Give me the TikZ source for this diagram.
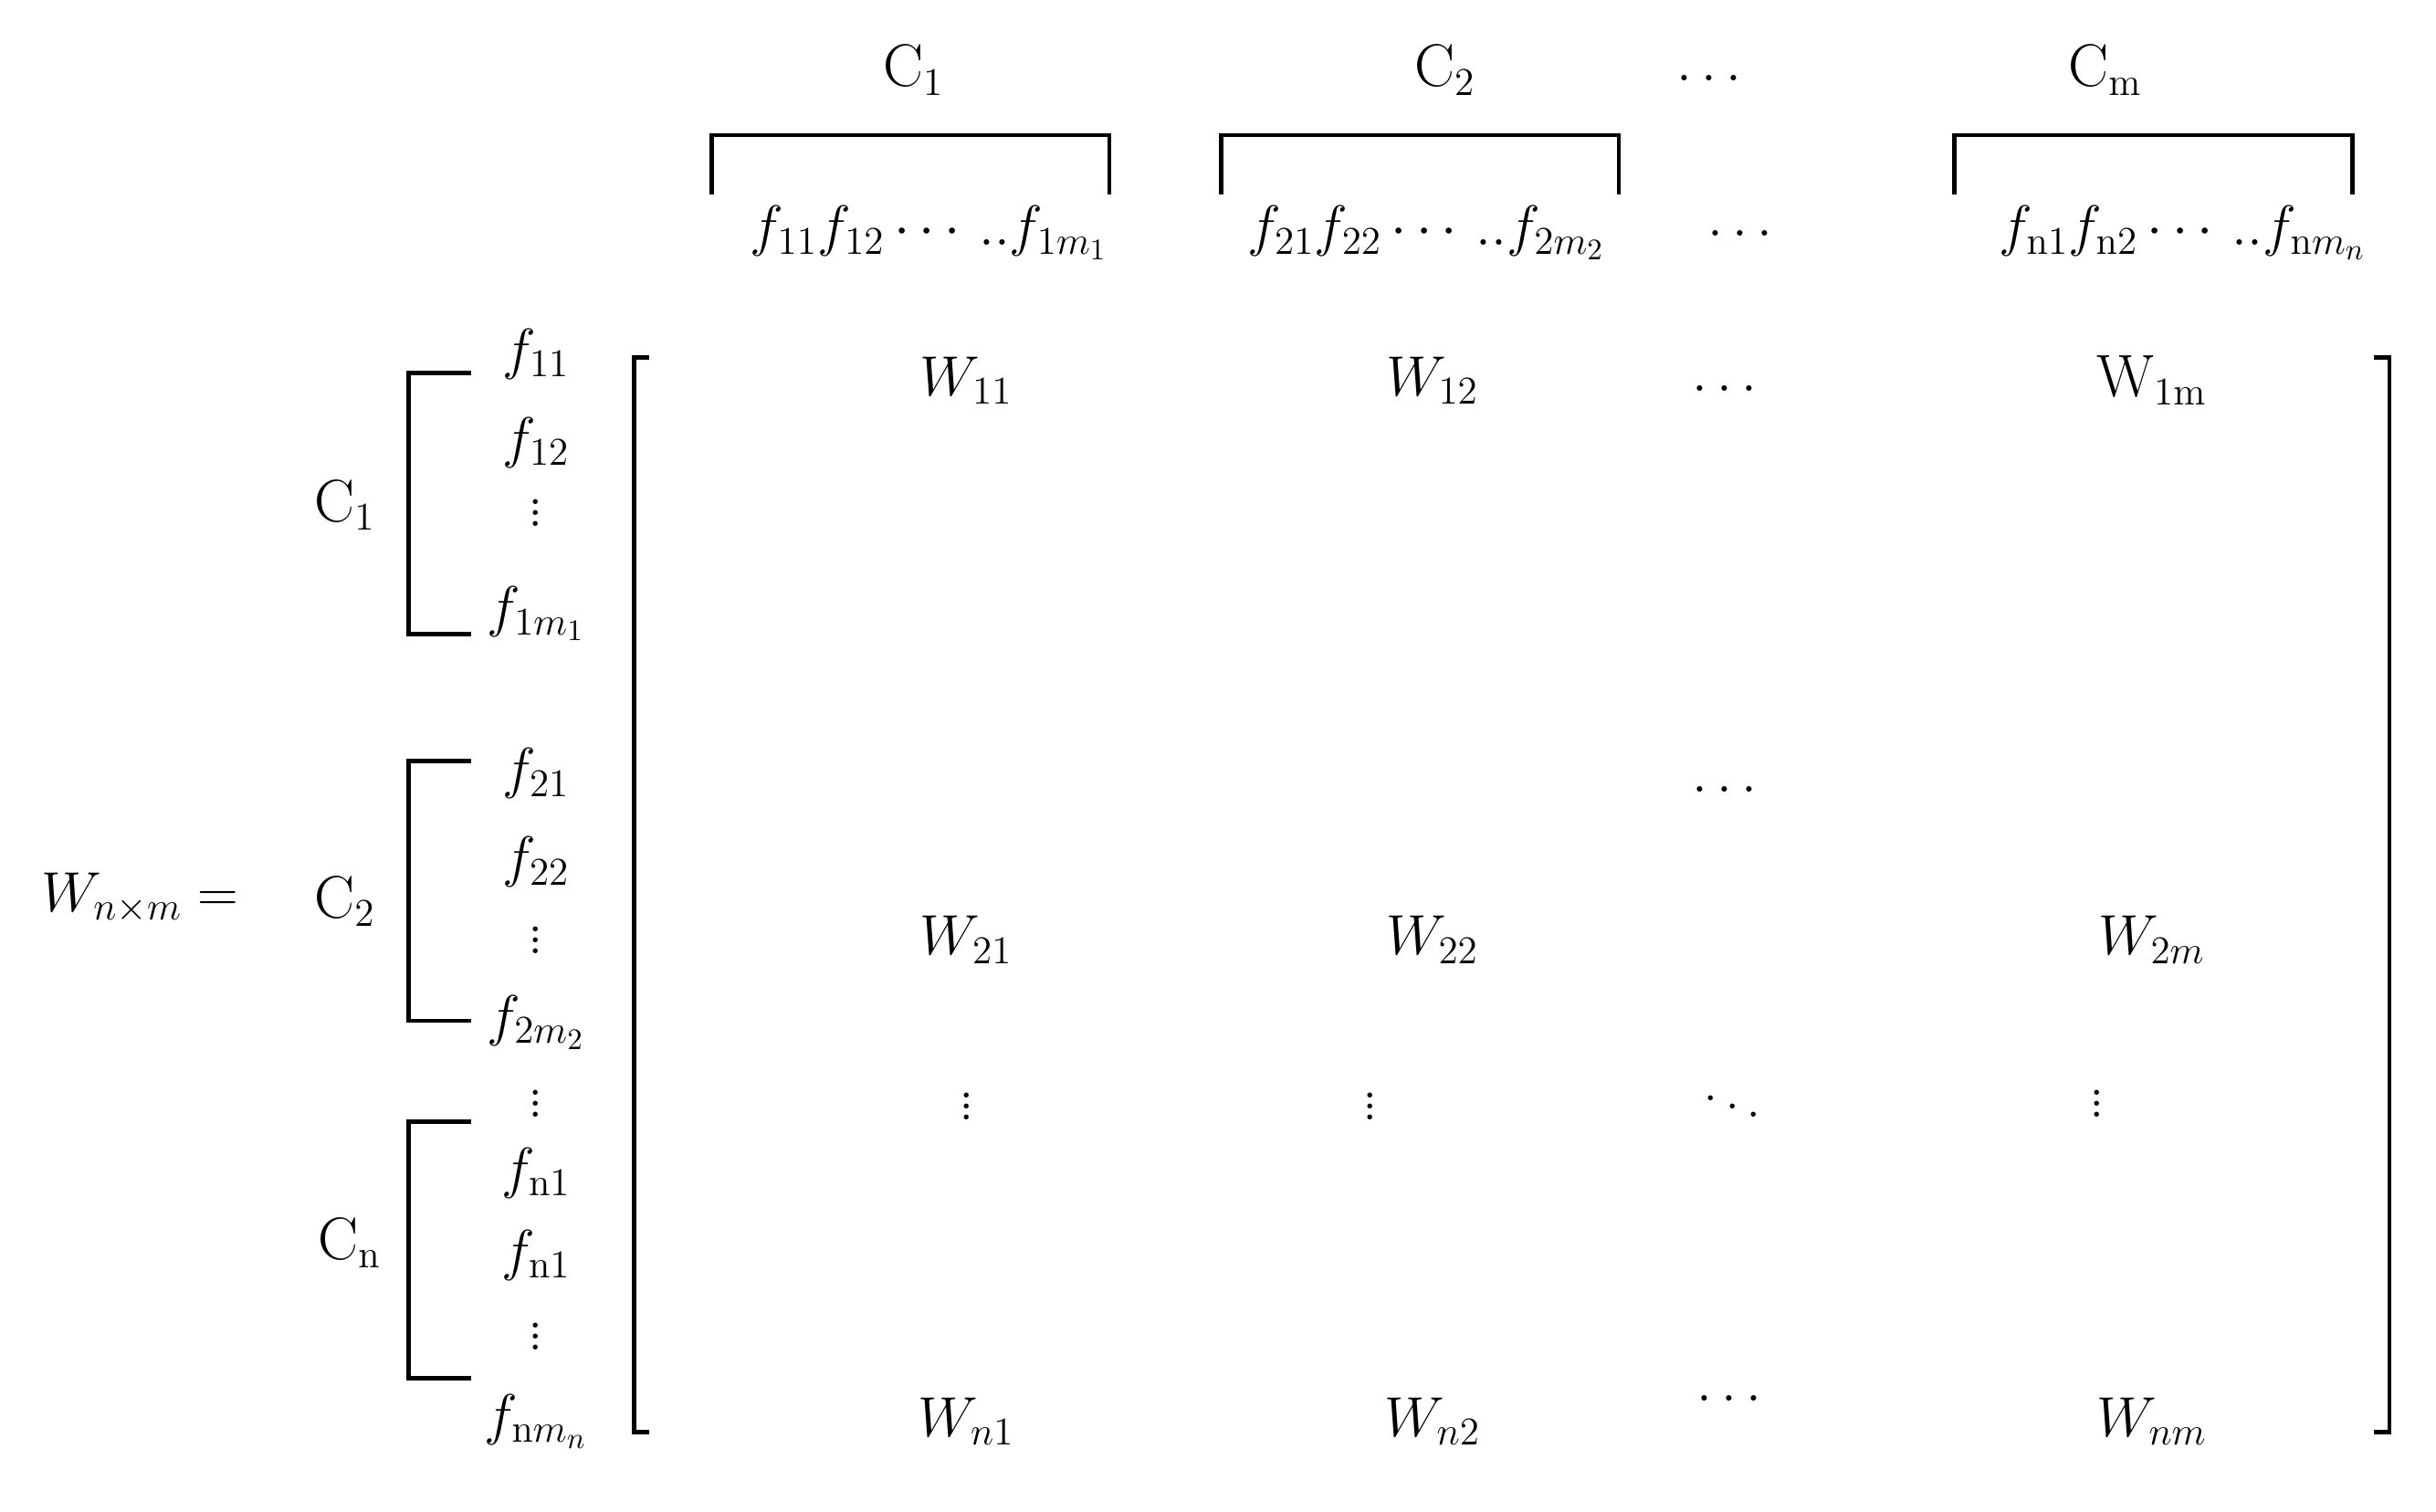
\documentclass[tikz,border=0pt]{standalone}
\usepackage{amsmath}
\begin{document}
\begin{tikzpicture}[x=0.02cm,y=-0.02cm,
  t/.style={inner sep=0pt,font=\fontsize{22}{26}\selectfont},
  br/.style={line width=1.6pt}]
\useasboundingbox (0,0) rectangle (1568,973);
% top
\node[t] (c1) at (588,45) {C$_1$};
\node[t] (c2) at (930,45) {C$_2$};
\node[t] (cd) at (1100,50) {$\ldots$};
\node[t] (cm) at (1355,45) {C$_\mathrm{m}$};
\draw[br] (458,125) -- (458,87) -- (714,87) -- (714,125);
\draw[br] (786,125) -- (786,87) -- (1042,87) -- (1042,125);
\draw[br] (1258,125) -- (1258,87) -- (1514,87) -- (1514,125);
\node[t] (h1) at (598,150) {$f_{11}f_{12}\cdots..f_{1m_1}$};
\node[t] (h2) at (918,150) {$f_{21}f_{22}\cdots..f_{2m_2}$};
\node[t] (hd) at (1120,150) {$\ldots$};
\node[t] (h3) at (1405,150) {$f_{\mathrm{n}1}f_{\mathrm{n}2}\cdots..f_{\mathrm{n}m_n}$};
% left
\node[t] (wl) at (90,578) {$W_{n\times m}=$};
\draw[br] (303,240) -- (263,240) -- (263,408) -- (303,408);
\draw[br] (303,490) -- (263,490) -- (263,657) -- (303,657);
\draw[br] (303,722) -- (263,722) -- (263,887) -- (303,887);
\node[t] (l1) at (222,325) {C$_1$};
\node[t] (l2) at (222,580) {C$_2$};
\node[t] (ln) at (225,800) {C$_\mathrm{n}$};
\node[t] (a1) at (345,228) {$f_{11}$};
\node[t] (a2) at (345,285) {$f_{12}$};
\node[t] (a3) at (345,325) {$\vdots$};
\node[t] (a4) at (345,395) {$f_{1m_1}$};
\node[t] (b1) at (345,498) {$f_{21}$};
\node[t] (b2) at (345,555) {$f_{22}$};
\node[t] (b3) at (345,600) {$\vdots$};
\node[t] (b4) at (345,658) {$f_{2m_2}$};
\node[t] (b5) at (345,705) {$\vdots$};
\node[t] (d1) at (345,755) {$f_{\mathrm{n}1}$};
\node[t] (d2) at (345,808) {$f_{\mathrm{n}1}$};
\node[t] (d3) at (345,855) {$\vdots$};
\node[t] (d4) at (345,915) {$f_{\mathrm{n}m_n}$};
% matrix brackets
\draw[br] (418,230) -- (408,230) -- (408,922) -- (418,922);
\draw[br] (1528,230) -- (1538,230) -- (1538,922) -- (1528,922);
% entries
\node[t] (w11) at (622,245) {$W_{11}$};
\node[t] (w12) at (922,245) {$W_{12}$};
\node[t] (w1d) at (1110,250) {$\ldots$};
\node[t] (w1m) at (1385,245) {W$_{1\mathrm{m}}$};
\node[t] (wdd) at (1110,508) {$\ldots$};
\node[t] (w21) at (622,605) {$W_{21}$};
\node[t] (w22) at (922,605) {$W_{22}$};
\node[t] (w2m) at (1385,605) {$W_{2m}$};
\node[t] (v1) at (622,707) {$\vdots$};
\node[t] (v2) at (882,707) {$\vdots$};
\node[t] (v3) at (1115,707) {$\ddots$};
\node[t] (v4) at (1350,705) {$\vdots$};
\node[t] (wn1) at (622,915) {$W_{n1}$};
\node[t] (wn2) at (922,915) {$W_{n2}$};
\node[t] (wnd) at (1113,900) {$\ldots$};
\node[t] (wnm) at (1385,915) {$W_{nm}$};
\end{tikzpicture}
\end{document}
